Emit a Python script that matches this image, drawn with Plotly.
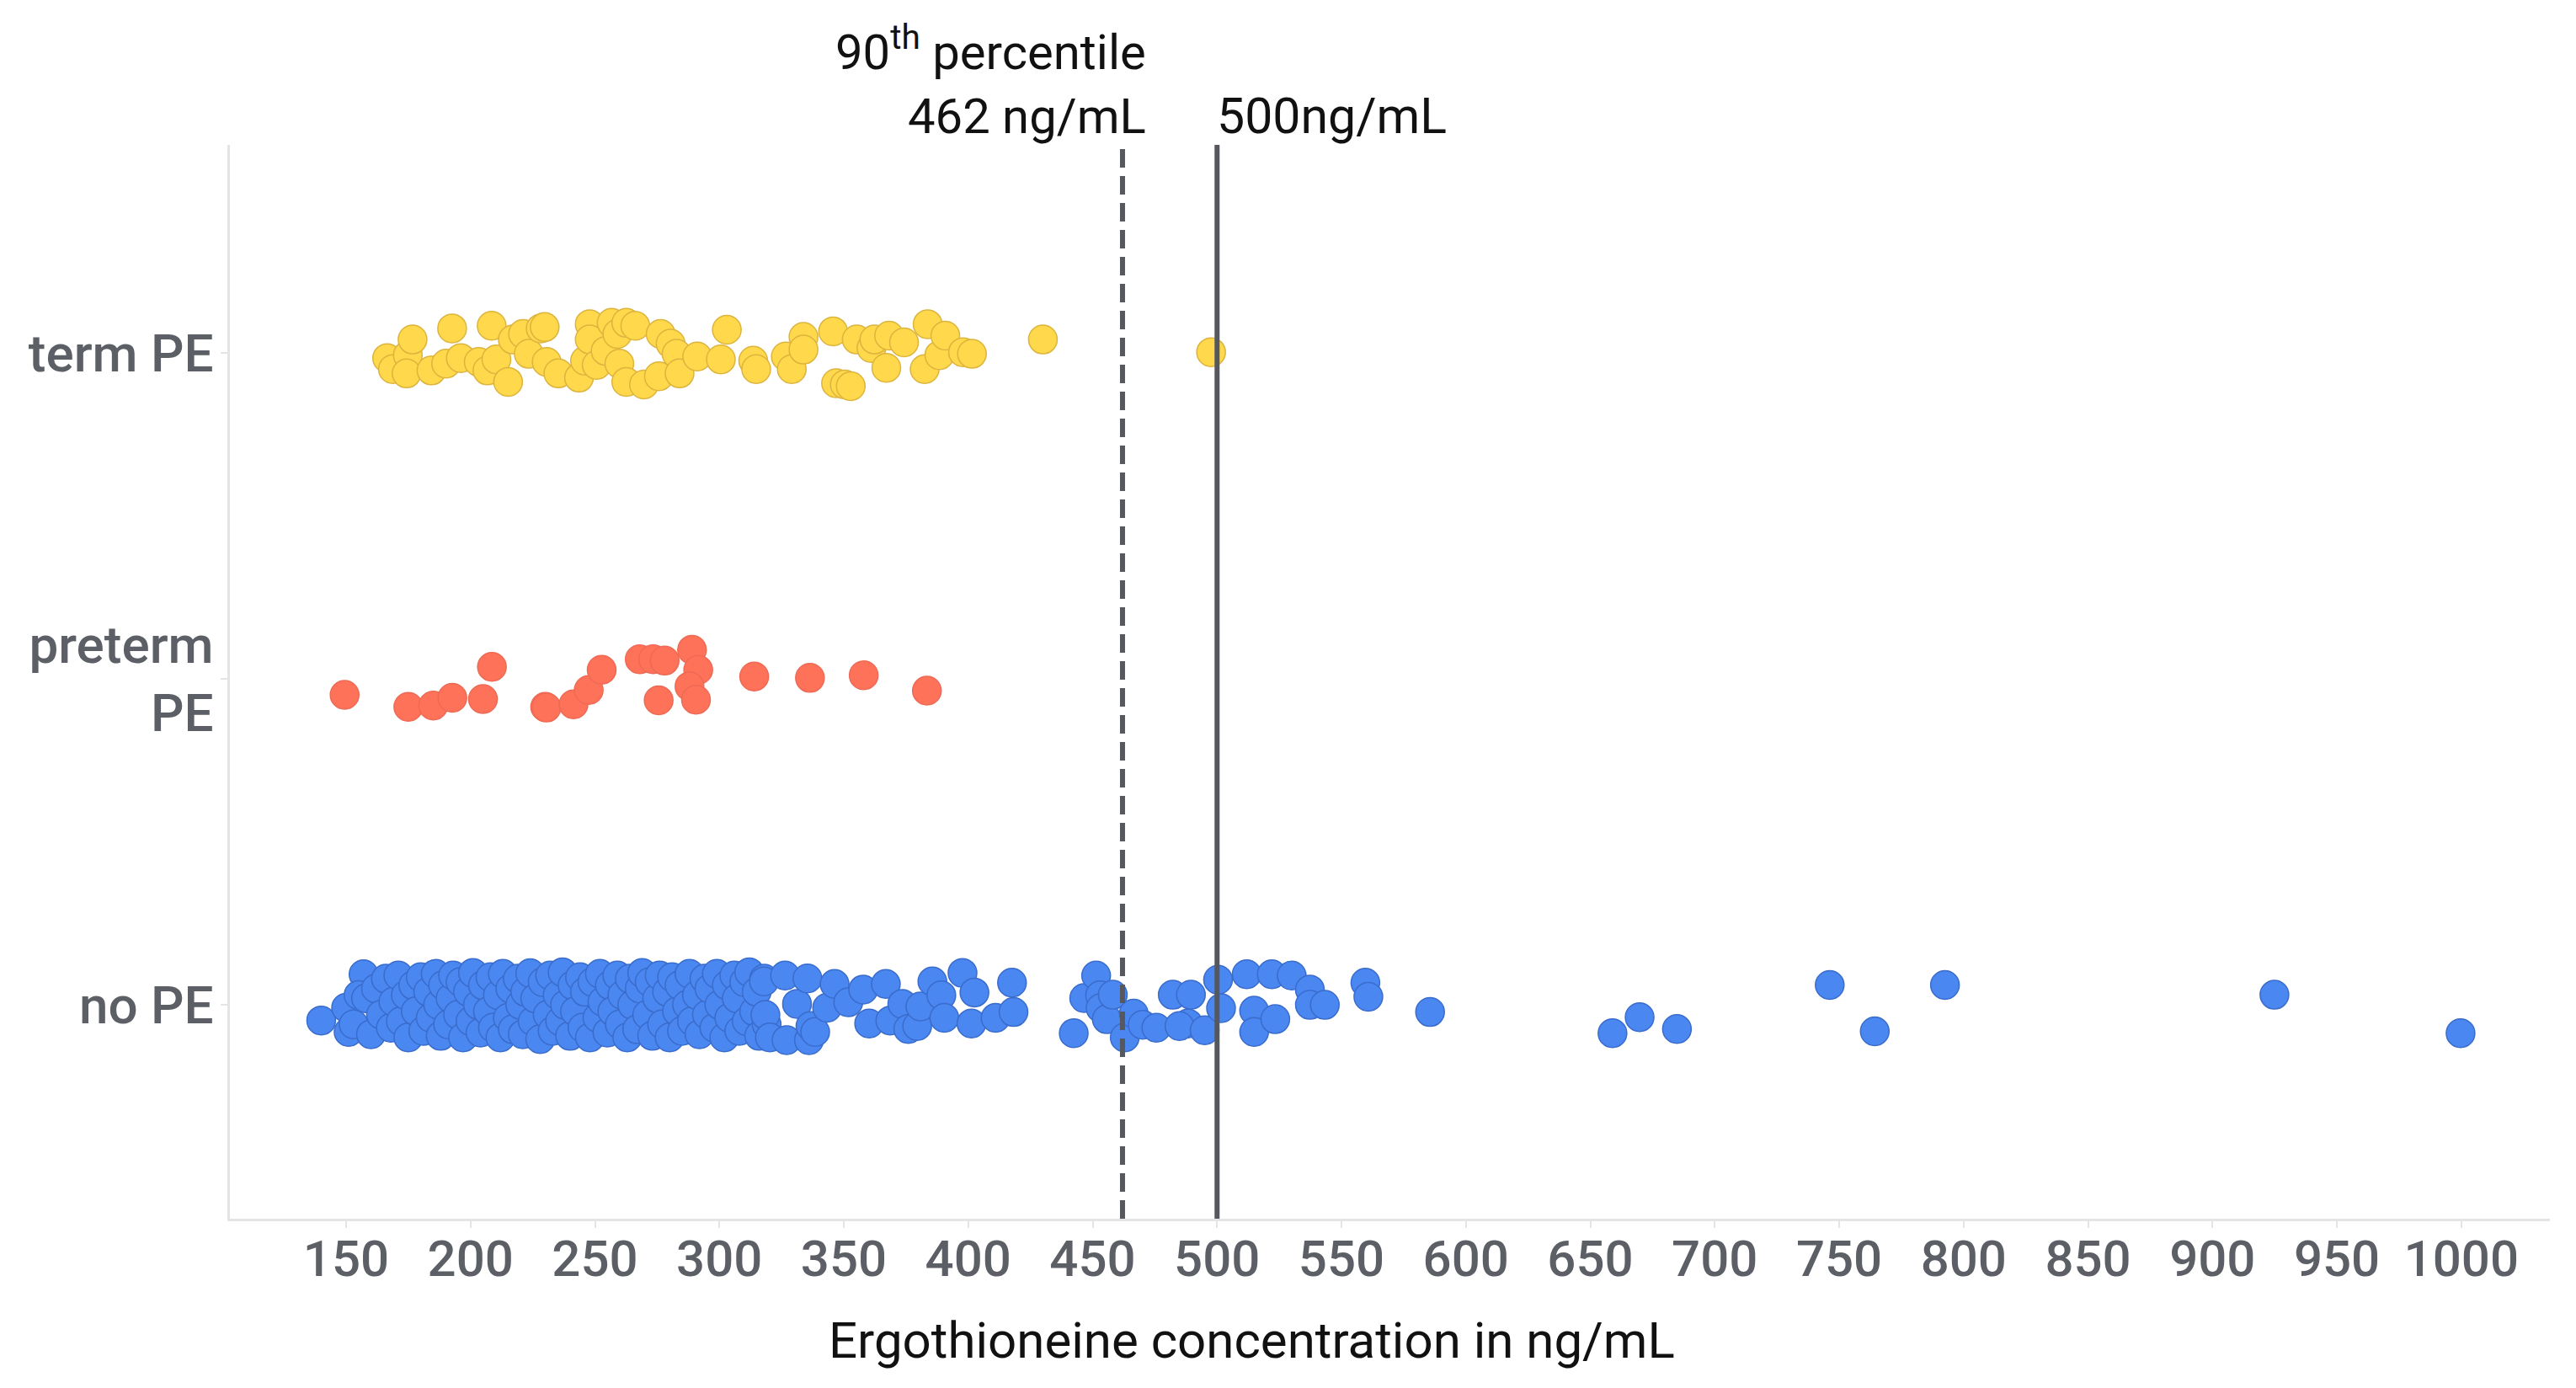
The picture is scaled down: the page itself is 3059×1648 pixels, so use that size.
import plotly.graph_objects as go

# ---------------- data ----------------
categories = ["no PE", "preterm<br>PE", "term PE"]
category_pos = [0, 1, 2]

term_pe_x = [166.5, 168.8, 174.8, 174.3, 176.7, 184.3, 190.2, 192.6, 196.1, 203.3,
             206.8, 208.5, 210.4, 215.1, 217.0, 221.1, 223.4, 228.2, 229.8, 230.6,
             235.3, 243.6, 246.0, 247.9, 247.9, 250.7, 254.3, 256.7, 259.0, 259.8,
             262.6, 266.2, 262.6, 269.7, 275.7, 276.4, 280.4, 282.8, 284.0, 291.1,
             300.6, 303.0, 313.6, 314.8, 326.7, 329.1, 333.8, 333.8, 345.7, 346.9,
             350.4, 352.8, 355.2, 361.1, 362.3, 367.1, 368.2, 374.2, 382.5, 383.7,
             388.4, 390.8, 397.9, 401.5, 430.0, 497.6]
term_pe_jitter = [-0.016, -0.050, -0.007, -0.063, 0.041, -0.054, -0.033, 0.075, -0.016, -0.028,
                  -0.054, 0.083, -0.020, -0.089, 0.041, 0.058, -0.003, 0.075, 0.079, -0.028,
                  -0.063, -0.076, -0.024, 0.088, 0.041, -0.037, 0.006, 0.092, 0.058, -0.033,
                  0.092, 0.083, -0.089, -0.097, -0.072, 0.058, 0.028, -0.003, -0.063, -0.011,
                  -0.020, 0.071, -0.024, -0.050, -0.011, -0.050, 0.049, 0.010, 0.066, -0.093,
                  -0.097, -0.102, 0.041, 0.015, 0.041, -0.046, 0.053, 0.032, -0.050, 0.088,
                  -0.007, 0.053, 0.002, -0.003, 0.041, 0.002]

preterm_pe_x = [149.4, 175.0, 185.0, 192.7, 205.0, 208.6, 230.0, 230.5, 241.4, 247.5,
                252.7, 268.0, 273.4, 278.0, 275.6, 289.0, 291.5, 288.0, 290.6, 314.0,
                336.4, 358.0, 383.4]
preterm_pe_jitter = [-0.049, -0.086, -0.082, -0.058, -0.062, 0.037, -0.086, -0.088, -0.078, -0.034,
                     0.028, 0.060, 0.060, 0.056, -0.066, 0.089, 0.028, -0.023, -0.064, 0.007,
                     0.003, 0.011, -0.036]

no_pe_x = [140, 150, 151, 157,
           153, 155, 158, 160, 162, 164, 166, 168, 169,
           171, 172, 174, 175, 177, 178, 180, 181, 183, 184, 186, 187, 188, 189,
           191, 192, 193, 195, 196, 197, 199, 200, 201, 203, 204, 205, 207, 208, 209,
           211, 212, 213, 215, 216, 217, 219, 220, 221, 222, 224, 225, 226, 228, 229,
           231, 232, 233, 235, 236, 237, 238, 240, 241, 242, 244, 245, 246, 248, 249,
           251, 252, 253, 255, 256, 257, 259, 260, 261, 263, 264, 265, 267, 268, 269,
           271, 272, 273, 275, 276, 277, 279, 280, 281, 283, 284, 285, 287, 288, 289,
           291, 292, 294, 295, 296, 298, 299, 300, 302, 303, 304, 306, 307, 308, 310,
           311, 312, 314, 315, 316, 318, 319,
           317.9, 318.5, 320.3, 326.4, 327.0, 331.2, 335.4, 336.0, 336.6, 338.5,
           343.3, 346.3, 351.8, 357.8, 360.2, 366.9, 368.7, 373.5, 375.9, 379.5,
           380.8, 385.6, 389.2, 390.4, 397.7, 401.3, 402.5, 411.0, 417.6, 418.2,
           442.4, 446.6, 451.4, 453.0, 453.2, 455.7, 458.1, 462.9, 466.5, 470.1,
           475.6, 482.2, 489.5, 488.3, 484.9, 495.0, 500.4, 501.6, 511.9, 514.9,
           514.9, 522.0, 523.4, 530.0, 537.3, 537.3, 543.3, 559.6, 560.8, 585.6,
           658.9, 669.8, 684.8, 746.2, 764.3, 792.5, 924.9, 999.7]
no_pe_jitter = [-0.048, -0.009, -0.083, 0.094,
                -0.06, 0.03, 0.02, -0.09, 0.05, -0.03, 0.08, -0.07, 0.01,
                0.09, -0.05, 0.03, -0.1, 0.06, -0.02, 0.085, -0.08, 0.04, -0.04, 0.095, 0.0, -0.095, 0.06,
                -0.06, 0.02, 0.09, -0.03, 0.07, -0.1, 0.04, -0.05, 0.098, 0.0, -0.085, 0.06, -0.02, 0.085, -0.07,
                0.03, -0.1, 0.095, -0.04, 0.05, -0.075, 0.08, 0.0, -0.09, 0.04, 0.097, -0.05, 0.02, -0.105, 0.07,
                -0.03, 0.09, -0.08, 0.03, -0.05, 0.1, 0.0, -0.095, 0.06, -0.02, 0.085, -0.07, 0.04, -0.1, 0.07,
                -0.04, 0.095, 0.01, -0.085, 0.06, -0.02, 0.09, -0.06, 0.03, -0.1, 0.08, 0.0, -0.075, 0.05, 0.098,
                -0.03, 0.07, -0.095, 0.02, 0.09, -0.06, 0.04, -0.1, 0.085, -0.02, 0.06, -0.08, 0.0, 0.095, -0.05,
                0.03, -0.09, 0.08, -0.03, 0.05, -0.07, 0.095, 0.0, -0.1, 0.06, -0.04, 0.09, 0.02, -0.08, 0.07,
                -0.05, 0.1, -0.02, 0.04, -0.095, 0.08, -0.06,
                0.072, -0.031, -0.100, 0.090, -0.108, 0.003, 0.081, -0.108, -0.065, -0.083,
                -0.009, 0.064, 0.008, 0.047, -0.057, 0.064, -0.048, 0.003, -0.074, -0.065,
                -0.005, 0.072, 0.029, -0.040, 0.098, -0.057, 0.038, -0.040, 0.068, -0.022,
                -0.087, 0.021, 0.090, 0.029, -0.010, -0.044, 0.031, -0.100, -0.027, -0.061,
                -0.070, 0.031, 0.031, -0.057, -0.065, -0.078, 0.077, -0.010, 0.094, -0.018,
                -0.083, 0.094, -0.044, 0.090, 0.047, 0.0, 0.0, 0.068, 0.025, -0.022,
                -0.087, -0.038, -0.074, 0.061, -0.081, 0.061, 0.031, -0.087]

x_ticks = [150, 200, 250, 300, 350, 400, 450, 500, 550, 600,
           650, 700, 750, 800, 850, 900, 950, 1000]
percentile_90 = 462
threshold = 500
x_title = "Ergothioneine concentration in ng/mL"

# ---------------- figure ----------------
FONT = "Roboto, 'Noto Sans', sans-serif"
TICK_COLOR = "#5c5f66"
AXIS_LINE = "#e4e4e4"
REF_LINE = "#55585f"

fig = go.Figure()

groups = [
    (no_pe_x, no_pe_jitter, category_pos[0], "#4a87f0", "#3a6ccc"),
    (preterm_pe_x, preterm_pe_jitter, category_pos[1], "#ff725a", "#ee6a55"),
    (term_pe_x, term_pe_jitter, category_pos[2], "#ffd94b", "#dcb43e"),
]
for xs, js, base, fill, edge in groups:
    fig.add_trace(go.Scatter(
        x=xs,
        y=[base + j for j in js],
        mode="markers",
        marker=dict(size=34, color=fill, line=dict(color=edge, width=1.5)),
        showlegend=False,
        hoverinfo="x",
    ))

fig.add_shape(type="line", xref="x", yref="paper", x0=percentile_90, x1=percentile_90,
              y0=0, y1=1, line=dict(color=REF_LINE, width=6, dash="22px,10px"), layer="above")
fig.add_shape(type="line", xref="x", yref="paper", x0=threshold, x1=threshold,
              y0=0, y1=1, line=dict(color=REF_LINE, width=6), layer="above")

fig.add_annotation(x=percentile_90, xref="x", y=1, yref="paper",
                   text=f"90<sup>th</sup> percentile<br>{percentile_90} ng/mL",
                   xanchor="right", yanchor="bottom", align="right", showarrow=False,
                   xshift=30, yshift=-2,
                   font=dict(family=FONT, size=58, color="#111111"))
fig.add_annotation(x=threshold, xref="x", y=1, yref="paper",
                   text=f"{threshold}ng/mL",
                   xanchor="left", yanchor="bottom", align="left", showarrow=False,
                   xshift=-2, yshift=-2,
                   font=dict(family=FONT, size=59, color="#111111"))
fig.add_annotation(x=0.4405, xref="paper", y=-0.1427, yref="paper",
                   text=x_title, xanchor="center", yanchor="bottom", showarrow=False,
                   font=dict(family=FONT, size=60, color="#111111"))

fig.update_layout(
    width=3059, height=1648,
    margin=dict(l=273, r=31, t=172, b=201, pad=0),
    paper_bgcolor="white", plot_bgcolor="white",
    font=dict(family=FONT),
    showlegend=False,
)
fig.update_xaxes(
    range=[103.3, 1035.6],
    tickvals=x_ticks, ticktext=[str(v) for v in x_ticks],
    showline=True, linecolor=AXIS_LINE, linewidth=3,
    ticks="outside", ticklen=8, tickcolor=AXIS_LINE, tickwidth=2,
    ticklabelstandoff=-15,
    showgrid=False, zeroline=False,
    tickfont=dict(family=FONT, size=60, color=TICK_COLOR, weight=500),
)
fig.update_yaxes(
    range=[-0.656, 2.638],
    tickvals=category_pos, ticktext=categories,
    showline=True, linecolor=AXIS_LINE, linewidth=3,
    ticks="outside", ticklen=8, tickcolor=AXIS_LINE, tickwidth=2,
    ticklabelstandoff=-4,
    showgrid=False, zeroline=False,
    tickfont=dict(family=FONT, size=62, color=TICK_COLOR, weight=500),
)

fig.write_html("out.html", config={"displayModeBar": False},
               post_script="document.body.style.margin='0';document.body.style.overflow='hidden';")
